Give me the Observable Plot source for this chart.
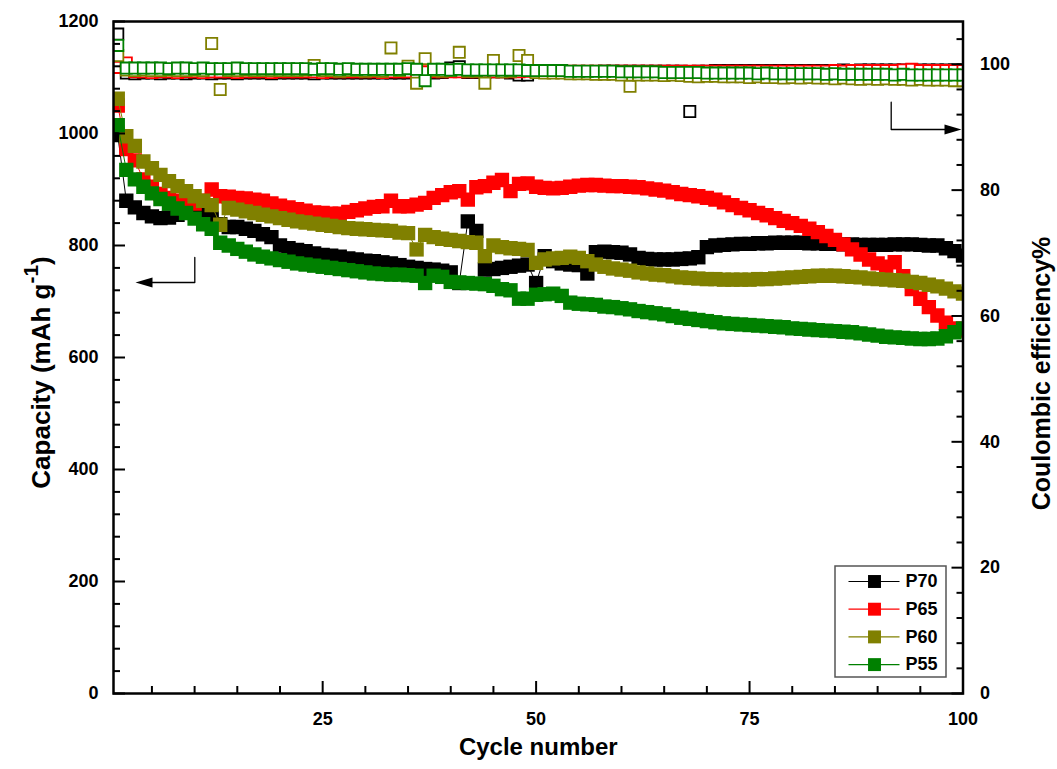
<!DOCTYPE html>
<html><head><meta charset="utf-8">
<script src="https://cdn.jsdelivr.net/npm/d3@7"></script>
<script src="https://cdn.jsdelivr.net/npm/@observablehq/plot@0.6"></script>
<style>
html,body{margin:0;padding:0;background:#fff;}
#chart{width:1057px;height:769px;}
</style></head><body><div id="chart"></div>
<script>
// ---------- data ----------
const cycles = d3.range(1, 101);
const seriesNames = ["P70", "P65", "P60", "P55"];
const seriesColors = ["#000000", "#ff0000", "#808000", "#008000"];

const capP70 = [
 997, 880, 868, 858, 852, 849, 850, 855, 860, 862,
 858, 849, 838, 833, 833, 830, 826, 820, 815, 800,
 795, 792, 790, 786, 783, 782, 780, 777, 775, 773,
 772, 770, 768, 765, 762, 760, 758, 757, 755, 752,
 733, 843, 826, 757, 758, 760, 762, 764, 766, 733,
 781, 772, 768, 766, 765, 750, 788, 789, 788, 787,
 784, 778, 776, 775, 775, 775, 776, 777, 779, 797,
 800, 801, 802, 803, 803, 804, 804, 805, 805, 805,
 805, 804, 804, 803, 803, 802, 802, 801, 801, 801,
 801, 802, 802, 802, 801, 800, 800, 795, 790, 782];
const capP65 = [
 1050, 972, 952, 918, 905, 892, 885, 880, 876, 875,
 880, 900, 888, 887, 885, 884, 882, 880, 875, 871,
 868, 865, 862, 859, 858, 857, 857, 860, 863, 866,
 869, 870, 880, 870, 870, 873, 876, 885, 890, 895,
 897, 882, 904, 906, 912, 917, 897, 910, 911, 905,
 903, 902, 903, 905, 907, 908, 908, 907, 906, 906,
 905, 904, 902, 900, 898, 895, 892, 890, 888, 885,
 882, 877, 872, 867, 863, 858, 854, 849, 844, 840,
 835, 830, 824, 817, 810, 802, 793, 784, 775, 768,
 762, 770, 745, 722, 705, 690, 675, 662, 652, 648];
const capP60 = [
 1062, 995, 978, 950, 938, 926, 915, 906, 897, 888,
 880, 872, 837, 867, 864, 861, 858, 855, 852, 849,
 846, 843, 841, 839, 837, 835, 833, 831, 830, 829,
 828, 827, 826, 823, 822, 793, 819, 815, 812, 810,
 808, 806, 805, 781, 800, 797, 795, 794, 792, 769,
 775, 777, 778, 780, 778, 772, 766, 762, 759, 757,
 755, 752, 750, 748, 747, 745, 743, 742, 741, 740,
 740, 739, 739, 739, 739, 740, 740, 741, 742, 743,
 744, 745, 746, 746, 746, 745, 744, 743, 741, 740,
 739, 738, 737, 735, 733, 730, 727, 723, 718, 714];
const capP55 = [
 1015, 935, 918, 905, 893, 883, 875, 866, 858, 848,
 838, 830, 805, 800, 794, 789, 784, 780, 777, 774,
 771, 768, 766, 764, 762, 760, 758, 756, 754, 752,
 750, 749, 748, 748, 747, 746, 733, 746, 744, 735,
 734, 733, 732, 731, 728, 722, 720, 705, 705, 712,
 713, 714, 710, 698, 696, 695, 694, 691, 690, 688,
 686, 683, 681, 679, 677, 674, 671, 669, 667, 665,
 663, 661, 660, 659, 658, 657, 656, 655, 654, 652,
 651, 650, 649, 648, 647, 646, 645, 643, 641, 639,
 637, 636, 635, 634, 633, 633, 634, 638, 645, 652];

const ceP70 = [
 104.8, 98.6, 98.5, 98.6, 98.6, 98.5, 98.6, 98.6, 98.5, 98.6,
 98.6, 98.5, 98.6, 98.6, 98.5, 98.6, 98.6, 98.6, 98.5, 98.6,
 98.6, 98.6, 98.6, 98.5, 98.6, 98.6, 98.6, 98.6, 98.6, 98.6,
 98.6, 98.6, 98.6, 98.6, 98.6, 98.7, 98.7, 98.6, 98.7, 99.4,
 99.6, 98.7, 98.7, 98.7, 98.8, 98.8, 98.6, 98.3, 98.3, 98.8,
 98.8, 98.8, 98.8, 98.8, 98.8, 98.8, 98.8, 98.9, 98.9, 98.9,
 98.9, 98.9, 98.9, 98.9, 98.9, 98.9, 98.9, 92.5, 98.9, 98.9,
 99.0, 99.0, 99.0, 99.0, 99.0, 99.0, 99.0, 99.0, 99.0, 99.0,
 99.0, 99.0, 99.0, 99.0, 99.0, 99.1, 99.0, 99.1, 99.1, 99.1,
 99.1, 99.1, 99.1, 99.1, 99.1, 99.1, 99.1, 99.1, 99.1, 99.1];
const ceP65 = [
 99.5, 100.2, 98.8, 98.8, 98.7, 98.8, 98.8, 98.7, 98.8, 98.8,
 98.7, 98.8, 98.8, 98.8, 98.7, 98.8, 98.8, 98.8, 98.7, 98.8,
 98.8, 98.8, 98.8, 98.8, 98.7, 98.8, 98.8, 98.8, 98.8, 98.8,
 98.8, 98.7, 98.8, 98.8, 98.8, 98.7, 98.8, 98.8, 98.8, 98.8,
 98.8, 98.8, 98.8, 98.8, 98.8, 98.8, 98.8, 98.8, 98.9, 98.9,
 98.9, 98.9, 98.9, 98.9, 98.9, 98.9, 98.9, 98.9, 98.9, 98.9,
 98.9, 98.9, 98.9, 98.9, 98.9, 98.9, 98.9, 98.9, 98.9, 98.9,
 98.9, 98.9, 98.9, 98.9, 98.9, 98.9, 98.9, 98.9, 98.9, 98.9,
 98.9, 98.9, 98.9, 98.9, 99.0, 98.9, 99.0, 99.0, 99.0, 99.0,
 99.0, 99.0, 99.1, 99.2, 99.0, 99.0, 99.0, 99.0, 99.0, 99.0];
const ceP60 = [
 101.4, 99.1, 99.0, 99.1, 99.0, 99.0, 99.1, 99.0, 99.0, 99.1,
 99.0, 103.3, 96.0, 99.0, 99.0, 99.1, 99.0, 99.0, 99.0, 99.0,
 99.0, 99.0, 99.1, 99.8, 99.0, 99.0, 98.9, 99.0, 99.0, 98.9,
 99.0, 98.9, 102.6, 99.0, 99.7, 97.0, 100.9, 99.0, 98.9, 99.0,
 101.9, 98.9, 98.9, 97.0, 100.6, 98.8, 98.9, 101.4, 100.6, 98.7,
 98.6, 98.6, 98.6, 98.5, 98.5, 98.5, 98.4, 98.4, 98.4, 98.3,
 96.5, 98.3, 98.3, 98.3, 98.2, 98.3, 98.2, 98.1, 98.0, 98.1,
 98.1, 98.0, 98.0, 98.0, 97.9, 98.0, 97.9, 97.9, 97.8, 97.9,
 97.8, 97.9, 97.8, 97.8, 97.7, 97.8, 97.7, 97.6, 97.7, 97.6,
 97.7, 97.6, 97.6, 97.5, 97.6, 97.5, 97.5, 97.5, 97.4, 97.4];
const ceP55 = [
 103.0, 99.4, 99.4, 99.4, 99.4, 99.4, 99.3, 99.4, 99.4, 99.3,
 99.4, 99.3, 99.3, 99.3, 99.4, 99.3, 99.3, 99.3, 99.3, 99.3,
 99.3, 99.3, 99.3, 99.2, 99.3, 99.3, 99.2, 99.3, 99.2, 99.2,
 99.2, 99.2, 99.2, 99.2, 99.3, 99.2, 97.4, 99.2, 99.2, 99.1,
 99.2, 99.1, 99.1, 99.1, 99.1, 99.1, 99.1, 99.1, 99.0, 99.0,
 99.0, 99.0, 99.0, 98.9, 98.9, 98.9, 98.9, 98.9, 98.9, 98.8,
 98.8, 98.8, 98.8, 98.8, 98.7, 98.7, 98.7, 98.7, 98.7, 98.6,
 98.6, 98.6, 98.6, 98.6, 98.6, 98.5, 98.6, 98.5, 98.5, 98.5,
 98.5, 98.5, 98.5, 98.4, 98.5, 98.4, 98.4, 98.4, 98.4, 98.4,
 98.4, 98.3, 98.4, 98.3, 98.3, 98.3, 98.3, 98.3, 98.3, 98.3];

const xTicks = [25, 50, 75, 100];
const xMinorTicks = [5, 10, 15, 20, 30, 35, 40, 45, 55, 60, 65, 70, 80, 85, 90, 95];
const capTicks = [0, 200, 400, 600, 800, 1000, 1200];
const ceTicks = [0, 20, 40, 60, 80, 100];
const xTitle = "Cycle number";
const yTitle = "Capacity (mAh g-1)";
const y2Title = "Coulombic efficiency%";

// ---------- layout ----------
const W = 1057, H = 769;
const X0 = 113, X1 = 962.5, Y0 = 693, Y1 = 21;
const xDomain = [0.5, 100];
const capMax = 1200, ceMax = 106.8;
const k = capMax / ceMax;
const px2cycle = px => xDomain[0] + (px - X0) / (X1 - X0) * (xDomain[1] - xDomain[0]);
const py2cap = py => (Y0 - py) / (Y0 - Y1) * capMax;

const capSeries = [capP70, capP65, capP60, capP55];
const ceSeries = [ceP70, ceP65, ceP60, ceP55];
const capRows = seriesNames.map((s, i) => capSeries[i].map((v, j) => ({series: s, cycle: cycles[j], value: v})));
const ceRows = seriesNames.map((s, i) => ceSeries[i].map((v, j) => ({series: s, cycle: cycles[j], value: v})));

const capMinor = d3.range(0, 1201, 40).filter(v => v % 200 !== 0);
const ceMinor = d3.range(0, 105, 4).filter(v => v % 20 !== 0).map(v => v * k);

const arrowHead = {draw(ctx) { ctx.moveTo(0, 0); ctx.lineTo(-17, -5); ctx.lineTo(-17, 5); ctx.closePath(); }};
const leftArrow = [[194.3, 257], [194.3, 282], [140, 282]];
const rightArrow = [[890.7, 101.7], [890.7, 129], [955, 129]];
const arrowTips = [{px: 135, py: 282, rot: 180}, {px: 961, py: 129, rot: 0}];

const legendRows = seriesNames.map((s, i) => ({s, color: seriesColors[i], py: 581 + 27.7 * i}));

const font = "'Liberation Sans', Arial, Helvetica, sans-serif";
const marks = [];

// capacity series (line + filled squares)
seriesNames.forEach((s, i) => {
  marks.push(Plot.line(capRows[i], {x: "cycle", y: "value", stroke: seriesColors[i], strokeWidth: 1, clip: true}));
  marks.push(Plot.dot(capRows[i], {x: "cycle", y: "value", symbol: "square", r: 8.1, fill: seriesColors[i], stroke: "none", clip: true}));
});
// coulombic efficiency (hollow squares, right axis)
seriesNames.forEach((s, i) => {
  marks.push(Plot.dot(ceRows[i], {x: "cycle", y: d => d.value * k, symbol: "square", r: 6.3, fill: "white", stroke: seriesColors[i], strokeWidth: 1.8, clip: true}));
});

// arrows
marks.push(Plot.line(leftArrow, {x: d => px2cycle(d[0]), y: d => py2cap(d[1]), stroke: "black", strokeWidth: 1.3}));
marks.push(Plot.line(rightArrow, {x: d => px2cycle(d[0]), y: d => py2cap(d[1]), stroke: "black", strokeWidth: 1.3}));
marks.push(Plot.dot(arrowTips, {x: d => px2cycle(d.px), y: d => py2cap(d.py), symbol: arrowHead, rotate: d => d.rot, fill: "black", stroke: "none"}));

// legend
marks.push(Plot.rect([0], {x1: px2cycle(835), x2: px2cycle(946), y1: py2cap(677), y2: py2cap(566), fill: "white", stroke: "#555", strokeWidth: 1.5}));
marks.push(Plot.link(legendRows, {x1: px2cycle(848), x2: px2cycle(899), y1: d => py2cap(d.py), y2: d => py2cap(d.py), stroke: d => d.color, strokeWidth: 1.2}));
marks.push(Plot.dot(legendRows, {x: px2cycle(874), y: d => py2cap(d.py), symbol: "square", r: 7.3, fill: d => d.color, stroke: "none"}));
marks.push(Plot.text(legendRows, {x: px2cycle(905), y: d => py2cap(d.py), text: "s", textAnchor: "start", fontSize: 18, fontWeight: "bold", fill: "black"}));

// frame and axes
const fmt = d => String(d);
marks.push(Plot.frame({stroke: "black", strokeWidth: 2.5}));
marks.push(Plot.axisX(xTicks, {anchor: "bottom", tickSize: -12, tickPadding: 31, strokeWidth: 2, fontSize: 18, fontWeight: "bold", tickFormat: fmt, label: null}));
marks.push(Plot.axisX(xMinorTicks, {anchor: "bottom", tickSize: -7, strokeWidth: 2, tickFormat: () => "", label: null}));
marks.push(Plot.axisY(capTicks, {anchor: "left", tickSize: -12, tickPadding: 27, strokeWidth: 2, fontSize: 18, fontWeight: "bold", tickFormat: fmt, label: null}));
marks.push(Plot.axisY(capMinor, {anchor: "left", tickSize: -7, strokeWidth: 2, tickFormat: () => "", label: null}));
marks.push(Plot.axisY(ceTicks.map(v => v * k), {anchor: "right", tickSize: -12, tickPadding: 29, strokeWidth: 2, fontSize: 18, fontWeight: "bold", tickFormat: d => String(Math.round(d / k)), label: null}));
marks.push(Plot.axisY(ceMinor, {anchor: "right", tickSize: -7, strokeWidth: 2, tickFormat: () => "", label: null}));

// axis titles
marks.push(Plot.text([xTitle], {frameAnchor: "bottom", dy: 61, textAnchor: "middle", fontSize: 24, fontWeight: "bold", fill: "black"}));
marks.push(Plot.text([yTitle], {frameAnchor: "left", dx: -72, dy: 15, rotate: -90, textAnchor: "middle", fontSize: 26, fontWeight: "bold", fill: "black"}));
marks.push(Plot.text([y2Title], {frameAnchor: "right", dx: 79, dy: 16, rotate: -90, textAnchor: "middle", fontSize: 25, fontWeight: "bold", fill: "black"}));

const chart = Plot.plot({
  width: W, height: H,
  marginLeft: X0, marginRight: W - X1, marginTop: Y1, marginBottom: H - Y0,
  x: {domain: xDomain, label: null},
  y: {domain: [0, capMax], label: null},
  style: {fontFamily: font, color: "black", background: "white", overflow: "visible"},
  marks
});

// superscript for the unit
d3.select(chart).selectAll("text").filter(function() { return this.textContent === yTitle; }).each(function() {
  const t = d3.select(this);
  t.text(null);
  t.append("tspan").text("Capacity (mAh g");
  t.append("tspan").attr("dy", "-0.55em").attr("font-size", "0.8em").text("-1");
  t.append("tspan").attr("dy", "0.44em").text(")");
});

document.getElementById("chart").appendChild(chart);
</script>
</body></html>
